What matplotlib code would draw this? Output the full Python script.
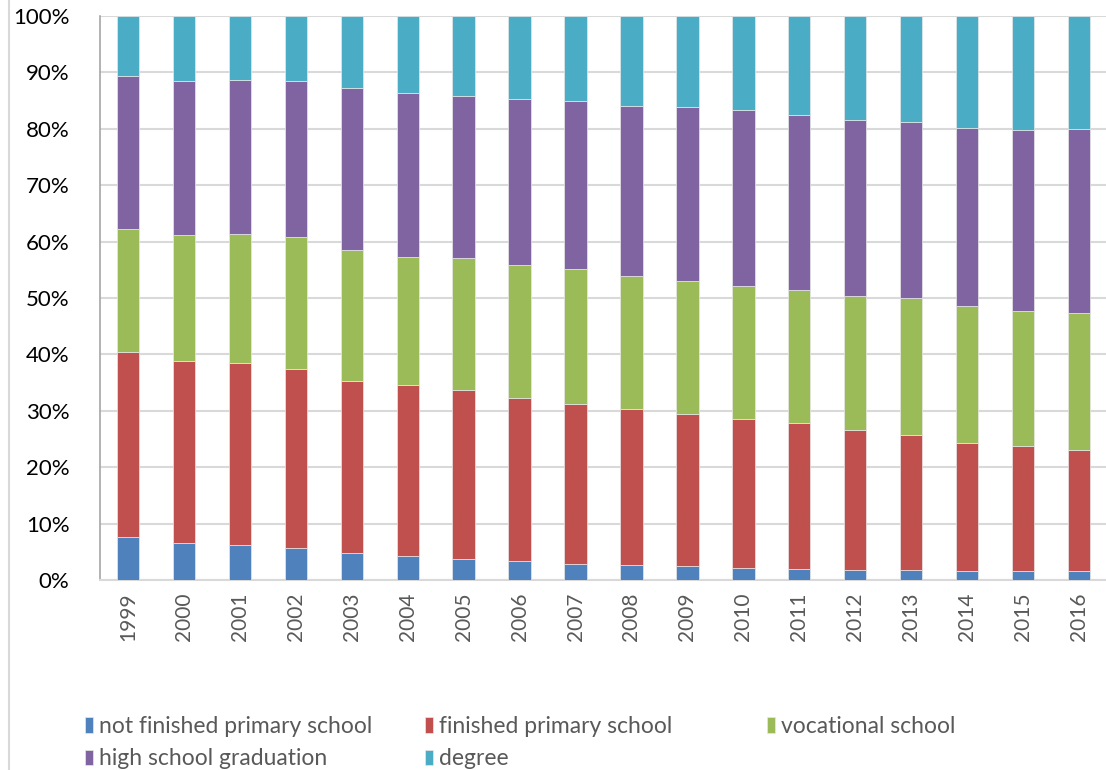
import matplotlib.pyplot as plt
import numpy as np
from matplotlib.lines import Line2D
from matplotlib.ticker import PercentFormatter

plt.rcParams["font.family"] = ["Lato", "DejaVu Sans"]

years = [str(y) for y in range(1999, 2017)]

# shares in percent
not_finished_primary = [7.6, 6.6, 6.2, 5.7, 4.8, 4.3, 3.7, 3.4, 2.8, 2.7, 2.5, 2.1, 1.9, 1.8, 1.8, 1.6, 1.6, 1.6]
finished_primary = [32.8, 32.2, 32.3, 31.7, 30.5, 30.3, 30.0, 28.9, 28.4, 27.6, 26.9, 26.4, 25.9, 24.8, 23.9, 22.7, 22.2, 21.4]
vocational = [21.8, 22.4, 22.8, 23.4, 23.2, 22.7, 23.4, 23.6, 23.9, 23.6, 23.6, 23.6, 23.6, 23.8, 24.3, 24.3, 23.9, 24.3]
high_school = [27.2, 27.3, 27.4, 27.7, 28.7, 29.0, 28.7, 29.4, 29.8, 30.1, 30.9, 31.2, 31.0, 31.2, 31.2, 31.5, 32.1, 32.7]
degree = [10.6, 11.5, 11.3, 11.5, 12.8, 13.7, 14.2, 14.7, 15.1, 16.0, 16.1, 16.7, 17.6, 18.4, 18.8, 19.9, 20.2, 20.0]

labels = ["not finished primary school", "finished primary school", "vocational school",
          "high school graduation", "degree"]
colors = ["#4F81BD", "#C0504D", "#9BBB59", "#8064A2", "#4BACC6"]
series = [not_finished_primary, finished_primary, vocational, high_school, degree]

fig = plt.figure(figsize=(11.06, 7.70), dpi=100)
ax = fig.add_axes([100 / 1106, 1 - 580 / 770, 1007 / 1106, 564 / 770])

x = np.arange(len(years))
bottom = np.zeros(len(years))
handles = []
for vals, lab, col in zip(series, labels, colors):
    vals = np.array(vals)
    b = ax.bar(x, vals, 0.4, bottom=bottom, color=col, label=lab,
               edgecolor="#e8e8e8", linewidth=0.5, zorder=3)
    handles.append(b)
    bottom += vals

ax.set_xlim(-0.5, len(years) - 0.5)
ax.set_ylim(0, 100)
ax.set_yticks(np.arange(0, 101, 10))
ax.yaxis.set_major_formatter(PercentFormatter(decimals=0))
ax.set_xticks(x)
ax.set_xticklabels(years, rotation=90)
ax.tick_params(axis="y", length=0, labelsize=16, pad=22, labelcolor="black")
ax.tick_params(axis="x", length=0, labelsize=15, pad=9, labelcolor="#595959")
ax.grid(axis="y", color="#d9d9d9", linewidth=1.5, zorder=0)

for side in ["top", "right"]:
    ax.spines[side].set_visible(False)
ax.spines["left"].set_color("#a6a6a6")
ax.spines["left"].set_linewidth(1.2)
ax.spines["bottom"].set_color("#d9d9d9")
ax.spines["bottom"].set_linewidth(1.5)

# light frame line at the left edge
fig.add_artist(Line2D([9 / 1106, 9 / 1106], [0, 1], color="#d9d9d9", linewidth=1.5))

# legend: three equally spaced columns, filled row by row
col_x = [85, 425, 767]
for c in range(3):
    idx = [i for i in range(len(labels)) if i % 3 == c]
    leg = fig.legend([handles[i] for i in idx], [labels[i] for i in idx],
                     loc="upper left", bbox_to_anchor=(col_x[c] / 1106, 1 - 716 / 770),
                     frameon=False, fontsize=16.5, handlelength=0.36, handleheight=0.66,
                     handletextpad=0.25, labelspacing=0.5, borderpad=0, borderaxespad=0)
    for t in leg.get_texts():
        t.set_color("#595959")

fig.savefig("out.png", dpi=100)
